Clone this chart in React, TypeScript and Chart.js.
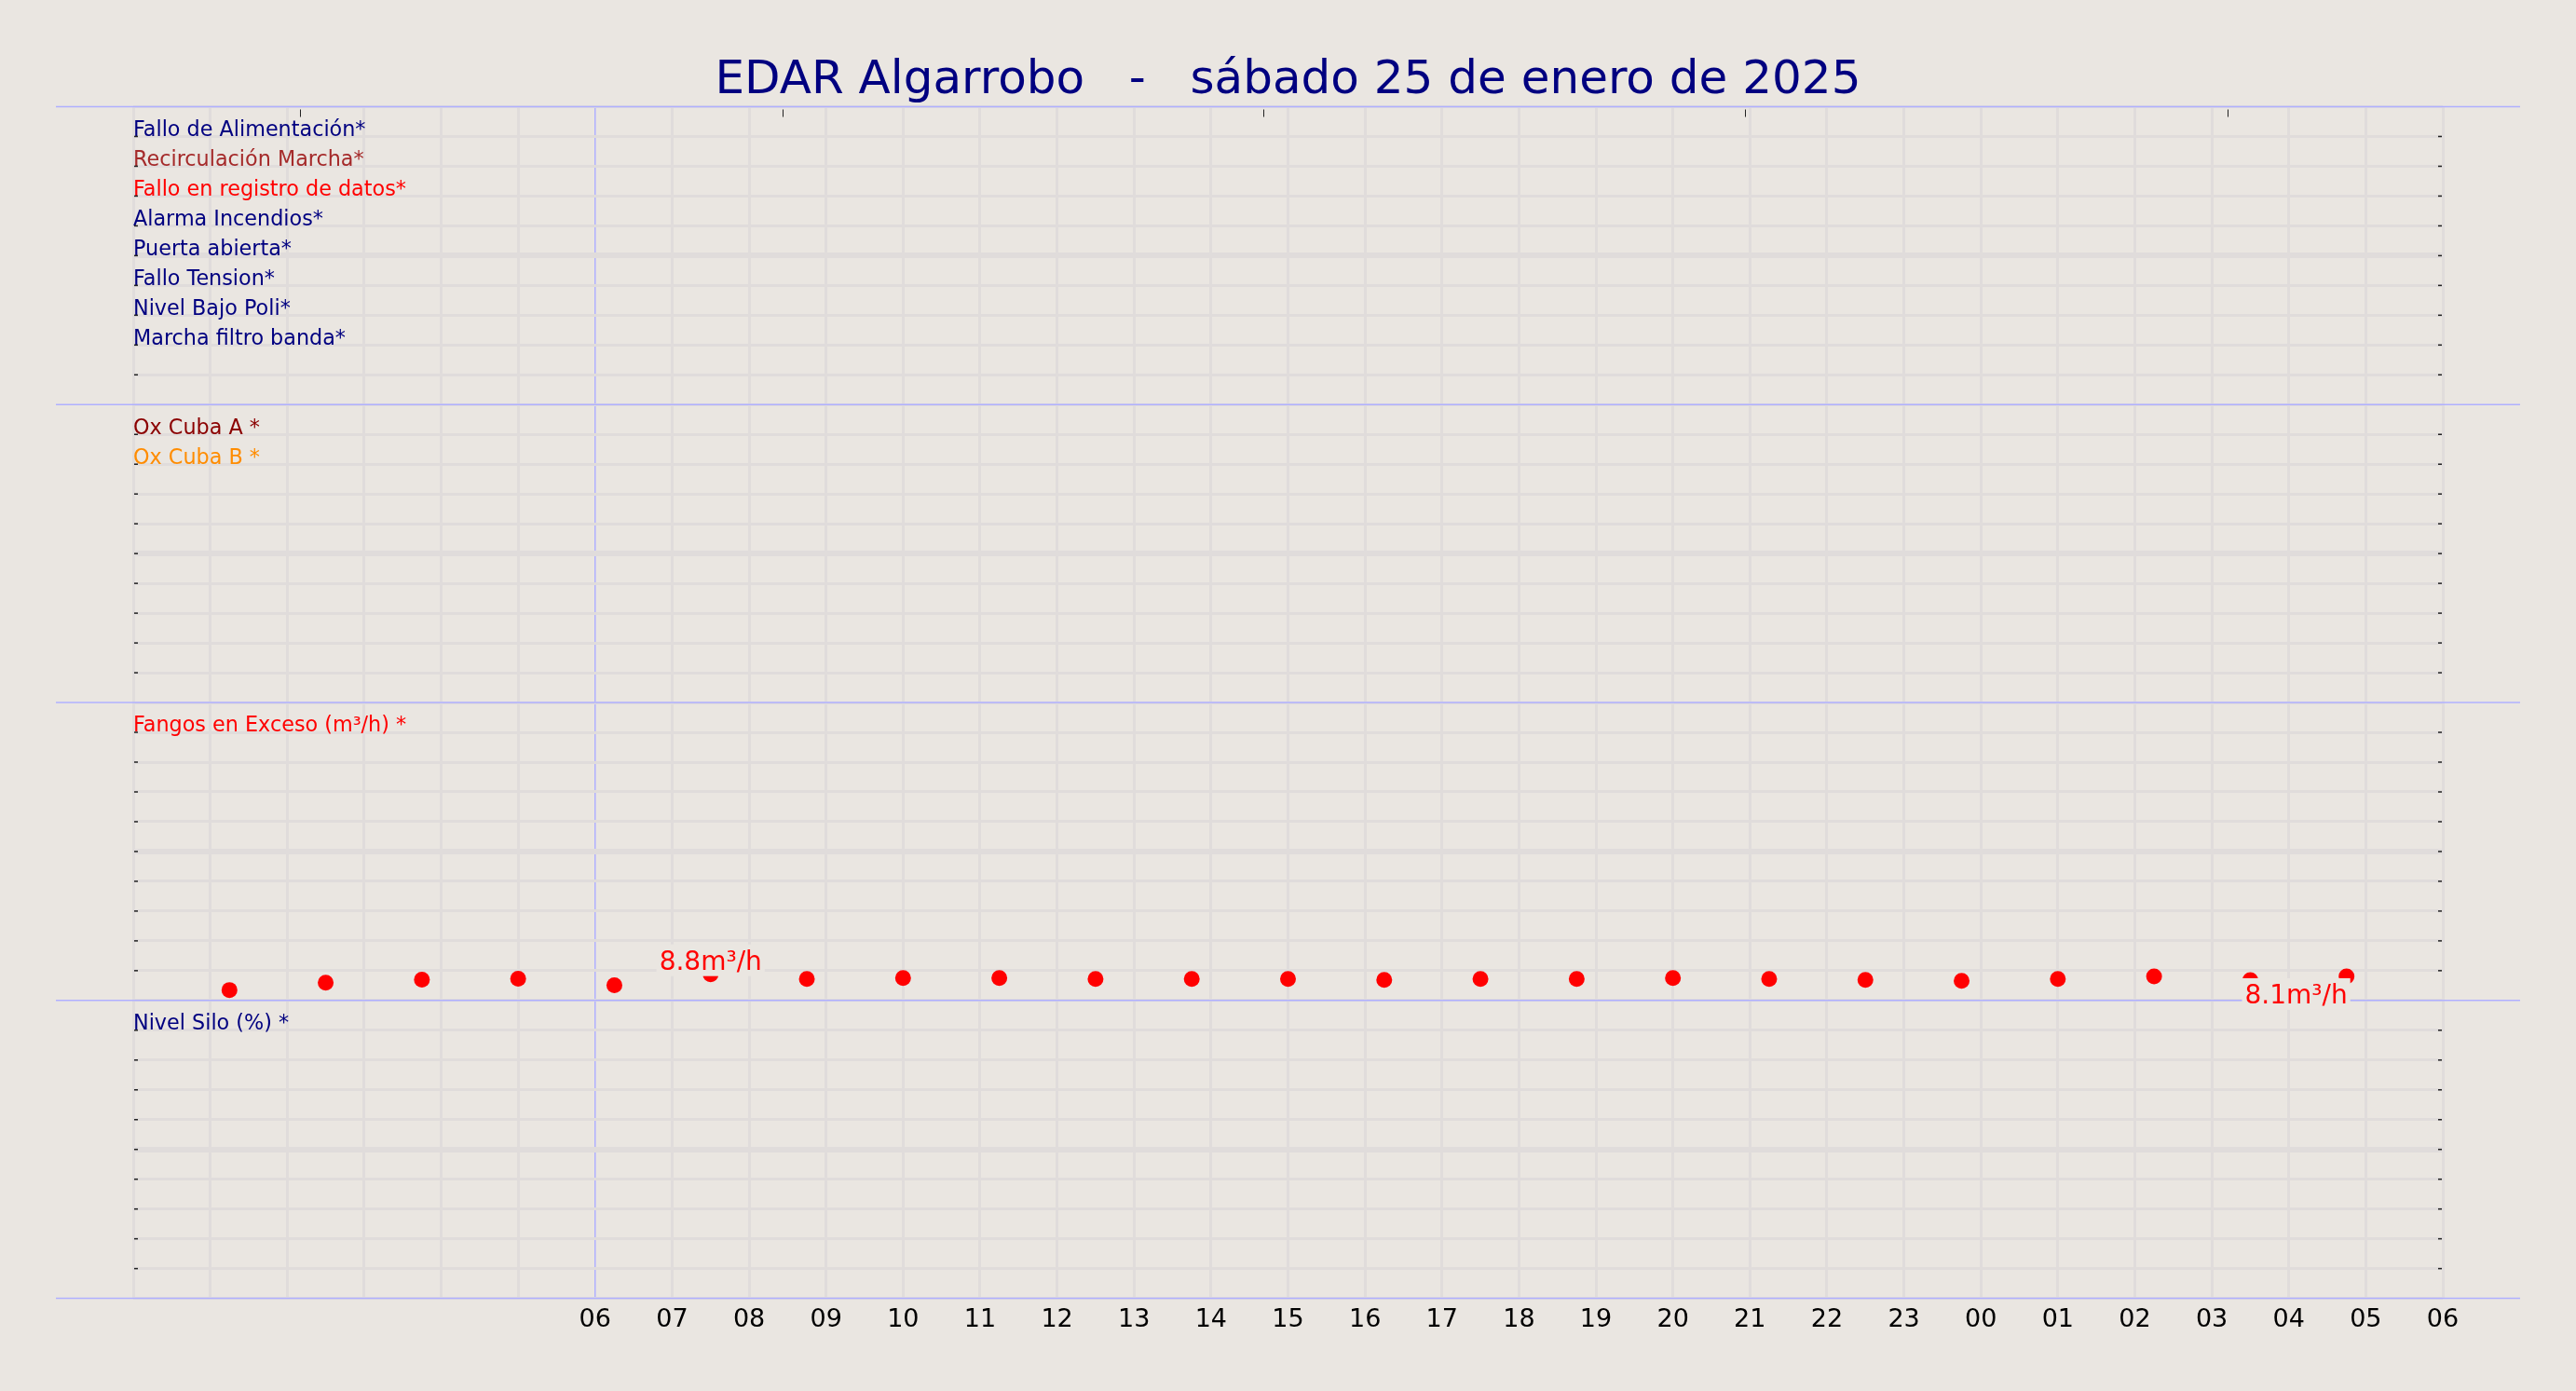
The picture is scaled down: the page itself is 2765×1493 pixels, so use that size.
import { useEffect, useRef } from "react"
import { Chart, registerables } from "chart.js"

Chart.register(...registerables)

const title = "EDAR Algarrobo   -   sábado 25 de enero de 2025"

// labels of each panel, from the top down
const alarmLabels = [
  "Fallo de Alimentación*",
  "Recirculación Marcha*",
  "Fallo en registro de datos*",
  "Alarma Incendios*",
  "Puerta abierta*",
  "Fallo Tension*",
  "Nivel Bajo Poli*",
  "Marcha filtro banda*",
]
const alarmColors = ["#000080", "#a52a2a", "#ff0000", "#000080", "#000080", "#000080", "#000080", "#000080"]
const oxLabels = ["Ox Cuba A *", "Ox Cuba B *"]
const oxColors = ["#8b0000", "#ff8c00"]
const fangosLabels = ["Fangos en Exceso (m³/h) *"]
const fangosColors = ["#ff0000"]
const siloLabels = ["Nivel Silo (%) *"]
const siloColors = ["#000080"]

// hours counted from 00:00 of the 25th
const fangosHours = [1.25, 2.5, 3.75, 5, 6.25, 7.5, 8.75, 10, 11.25, 12.5, 13.75, 15, 16.25, 17.5, 18.75, 20, 21.25, 22.5, 23.75, 25, 26.25, 27.5, 28.75]
const fangosValues = [3.5, 6.0, 7.0, 7.3, 5.1, 8.8, 7.2, 7.5, 7.5, 7.2, 7.2, 7.2, 6.9, 7.2, 7.2, 7.5, 7.2, 6.9, 6.6, 7.2, 8.1, 6.8, 8.1]

const hourLabels = [
  "", "", "", "", "", "",
  "06", "07", "08", "09", "10", "11", "12", "13", "14", "15", "16", "17", "18", "19", "20", "21", "22", "23",
  "00", "01", "02", "03", "04", "05", "06",
]
const topTicks = [2.17, 8.43, 14.68, 20.94, 27.2]

const BG = "#eae6e1"
const GRID = "#e0dcdb"
const BLUE = "#b0b0ff"
const NAVY = "#000080"
const RED = "#ff0000"

Chart.defaults.font.family = "'DejaVu Sans', sans-serif"
Chart.defaults.color = "#000"

function panelAxis(weight: number, max: number, labels: string[], colors: string[]) {
  return {
    type: "linear" as const,
    position: "left" as const,
    stack: "panels",
    stackWeight: 1,
    weight,
    min: 0,
    max,
    border: { display: false },
    grid: {
      color: GRID,
      lineWidth: (c: any) => (c.index === 5 ? 6 : 3),
      drawTicks: false,
    },
    ticks: {
      stepSize: max / 10,
      autoSkip: false,
      mirror: true,
      padding: 0,
      labelOffset: -6.5,
      font: { size: 22.3 },
      color: (c: any) => colors[9 - c.index] ?? NAVY,
      callback: (_v: any, i: number) => labels[9 - i] ?? "",
    },
  }
}

const line = (ctx: CanvasRenderingContext2D, x1: number, y1: number, x2: number, y2: number) => {
  ctx.beginPath()
  ctx.moveTo(x1, y1)
  ctx.lineTo(x2, y2)
  ctx.stroke()
}

const decorations = {
  id: "decorations",
  beforeDatasetsDraw(chart: any) {
    const { ctx, chartArea: a } = chart
    const panels = ["yA", "yB", "yC", "yD"].map((id) => chart.scales[id])
    ctx.save()
    ctx.strokeStyle = "#222"
    ctx.lineWidth = 1.5
    for (const s of panels) {
      s.ticks.forEach((t: any, i: number) => {
        if (i === 0 || i === s.ticks.length - 1) return
        const y = s.getPixelForValue(t.value)
        line(ctx, a.left + 1, y, a.left + 5, y)
        line(ctx, a.right - 5, y, a.right - 1, y)
      })
    }
    ctx.lineWidth = 1
    for (const v of topTicks) {
      const px = Math.round(chart.scales.x.getPixelForValue(v)) + 0.5
      line(ctx, px, a.top + 3, px, a.top + 11)
    }
    ctx.strokeStyle = BLUE
    ctx.lineWidth = 1.5
    const ys = [...panels.map((s: any) => s.top), a.bottom]
    for (const y of ys) line(ctx, a.left - 83, y, a.right + 83, y)
    ctx.restore()
  },
  afterDatasetsDraw(chart: any) {
    const { ctx } = chart
    const pts = chart.getDatasetMeta(0).data
    const maxIdx = fangosValues.indexOf(Math.max(...fangosValues))
    const lastIdx = fangosValues.length - 1
    ctx.save()
    ctx.font = "28px 'DejaVu Sans', sans-serif"
    ctx.textBaseline = "alphabetic"
    const tag = (i: number, align: "center" | "right", dy: number, dx: number) => {
      const text = fangosValues[i].toFixed(1) + "m³/h"
      const x = pts[i].x + dx
      const base = pts[i].y + dy
      const w = ctx.measureText(text).width
      const left = align === "center" ? x - w / 2 : x - w
      ctx.fillStyle = BG
      ctx.fillRect(left - 3, base - 27, w + 6, 34)
      ctx.fillStyle = RED
      ctx.textAlign = align
      ctx.fillText(text, x, base)
    }
    tag(maxIdx, "center", -5, 0)
    tag(lastIdx, "right", 29, 1)
    ctx.restore()
  },
}

export default function App() {
  const chartRef = useRef<HTMLCanvasElement>(null)
  const chartInstance = useRef<Chart | null>(null)

  useEffect(() => {
    if (!chartRef.current) return
    if (chartInstance.current) chartInstance.current.destroy()

    chartInstance.current = new Chart(chartRef.current, {
      type: "scatter",
      data: {
        datasets: [
          {
            label: fangosLabels[0],
            data: fangosHours.map((h, i) => ({ x: h, y: fangosValues[i] })),
            yAxisID: "yC",
            pointRadius: 8.5,
            pointBackgroundColor: RED,
            pointBorderWidth: 0,
            showLine: false,
          },
        ],
      },
      options: {
        animation: false,
        responsive: true,
        maintainAspectRatio: false,
        layout: { padding: { left: 143, right: 143, top: 0, bottom: 53 } },
        plugins: {
          legend: { display: false },
          tooltip: { enabled: false },
          title: {
            display: true,
            text: title,
            color: NAVY,
            font: { size: 50, weight: "normal", lineHeight: 1.1 },
            padding: { top: 59.5, bottom: 0 },
          },
        },
        scales: {
          x: {
            type: "linear",
            min: 0,
            max: 30,
            border: { display: false },
            grid: {
              color: (c: any) => (c.tick?.value === 6 ? BLUE : GRID),
              lineWidth: (c: any) => (c.tick?.value === 6 ? 1.5 : 3),
              drawTicks: false,
            },
            ticks: {
              stepSize: 1,
              autoSkip: false,
              maxRotation: 0,
              padding: 7,
              color: "#000",
              font: { size: 27 },
              callback: (v: any) => hourLabels[Math.round(v)] ?? "",
            },
          },
          yA: panelAxis(4, 10, alarmLabels, alarmColors),
          yB: panelAxis(3, 10, oxLabels, oxColors),
          yC: panelAxis(2, 100, fangosLabels, fangosColors),
          yD: panelAxis(1, 100, siloLabels, siloColors),
        } as any,
      },
      plugins: [decorations],
    })

    return () => {
      if (chartInstance.current) {
        chartInstance.current.destroy()
        chartInstance.current = null
      }
    }
  }, [])

  return (
    <div style={{ position: "fixed", left: 0, top: 0, width: "100vw", height: "100vh", background: BG }}>
      <canvas ref={chartRef} />
    </div>
  )
}
